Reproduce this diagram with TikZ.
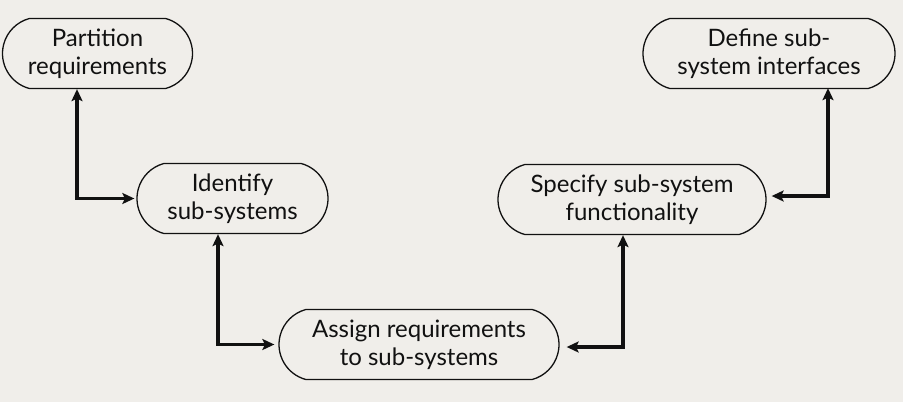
\documentclass[tikz,border=0pt]{standalone}
\usepackage{fontspec}
\setmainfont{Lato}
\usetikzlibrary{shapes.misc,arrows.meta,calc}
\definecolor{bgc}{HTML}{F0EEEA}
\definecolor{inkc}{HTML}{111111}
\begin{document}
\begin{tikzpicture}[x=1pt,y=-1pt,
  stage/.style={rounded rectangle, rounded rectangle arc length=150, draw=inkc, line width=1.3pt,
    minimum height=70pt, inner xsep=2pt, inner ysep=0pt, align=center, text=inkc,
    font=\fontsize{24}{28}\selectfont},
  link/.style={line width=3.2pt, draw=inkc, line join=miter, {Stealth[length=12pt,width=11pt,inset=2.5pt]}-{Stealth[length=12pt,width=11pt,inset=2.5pt]}}]
\fill[bgc] (0,0) rectangle (903,402);
\useasboundingbox (0,0) rectangle (903,402);
\node[stage, minimum width=194pt] (n1) at (97.5,53.5) {Partition\\requirements};
\node[stage, minimum width=195pt] (n2) at (232.5,198.5) {Identify\\sub-systems};
\node[stage, minimum width=284pt] (n3) at (419,344.5) {Assign requirements\\to sub-systems};
\node[stage, minimum width=272pt] (n4) at (632,199.5) {Specify sub-system\\functionality};
\node[stage, minimum width=256pt] (n5) at (769,53.5) {Define sub-\\system interfaces};
\draw[link] ([xshift=-20.5pt]n1.south) |- ([xshift=-2pt]n2.west);
\draw[link] ([xshift=-14.5pt]n2.south) |- ([xshift=-4pt]n3.west);
\draw[link] ([xshift=-9pt]n4.south) |- ([xshift=7pt,yshift=-2.5pt]n3.east);
\draw[link] ([xshift=59pt,yshift=1pt]n5.south) |- ([xshift=5pt,yshift=3.5pt]n4.east);
\end{tikzpicture}
\end{document}
